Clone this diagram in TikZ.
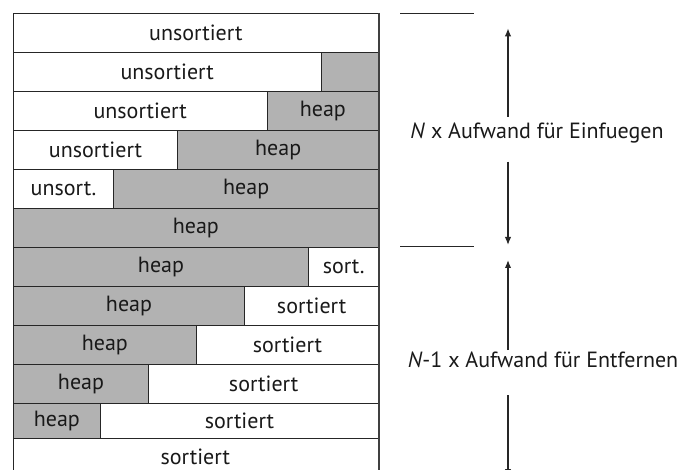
\documentclass[tikz,border=0pt]{standalone}
\usepackage{fontspec}
\setmainfont{PT Sans}
\usetikzlibrary{arrows.meta}
\newcommand\mkcell[7]{\node[#2, minimum width={(#4-#3)*1pt}, minimum height={#6*1pt}] (#1) at (#3,#5) {#7};}
\begin{document}
\begin{tikzpicture}[x=1pt,y=-1pt,
  cell/.style={draw=black!85, line width=1pt, anchor=north west, inner sep=0pt,
    font=\fontsize{22}{24}\selectfont, text=black!90},
  uns/.style={cell, fill=white},
  hp/.style={cell, fill=black!30},
  lab/.style={font=\fontsize{22}{24}\selectfont, text=black!90},
  sep/.style={line width=1pt, draw=black!85},
  arr/.style={-{Latex[length=8pt,width=6.5pt]}, line width=1.4pt, draw=black!85}
]
\useasboundingbox (0,0) rectangle (685,470);
\clip (0,0) rectangle (685,470);
% rows
\mkcell{r1a}{uns}{12.7}{378}{13}{39}{unsortiert}
\mkcell{r2a}{uns}{12.7}{320.7}{52}{39}{unsortiert}
\mkcell{r2b}{hp}{320.7}{378}{52}{39}{}
\mkcell{r3a}{uns}{12.7}{266.7}{91}{39}{unsortiert}
\mkcell{r3b}{hp}{266.7}{378}{91}{39}{heap}
\mkcell{r4a}{uns}{12.7}{177.3}{130}{39}{unsortiert}
\mkcell{r4b}{hp}{177.3}{378}{130}{39}{heap}
\mkcell{r5a}{uns}{12.7}{113.3}{169}{39}{unsort.}
\mkcell{r5b}{hp}{113.3}{378}{169}{39}{heap}
\mkcell{r6a}{hp}{12.7}{378}{208}{39}{heap}
\mkcell{r7a}{hp}{12.7}{308.3}{247}{39}{heap}
\mkcell{r7b}{uns}{308.3}{378}{247}{39}{sort.}
\mkcell{r8a}{hp}{12.7}{244.3}{286}{39}{heap}
\mkcell{r8b}{uns}{244.3}{378}{286}{39}{sortiert}
\mkcell{r9a}{hp}{12.7}{196}{325}{39}{heap}
\mkcell{r9b}{uns}{196}{378}{325}{39}{sortiert}
\mkcell{r10a}{hp}{12.7}{148.3}{364}{39}{heap}
\mkcell{r10b}{uns}{148.3}{378}{364}{39}{sortiert}
\mkcell{r11a}{hp}{12.7}{100}{403}{35}{heap}
\mkcell{r11b}{uns}{100}{378}{403}{35}{sortiert}
\node[uns, minimum width=365.3pt, minimum height=45pt] (r12a) at (12.7,438) {};
\node[lab] (r12t) at (195.3,457) {sortiert};
\draw[line width=1.6pt, draw=black!75] (r1a.north east) -- (r12a.south east);
% right side markers
\coordinate (m1a) at (400,13.3); \coordinate (m1b) at (474,13.3);
\coordinate (m2a) at (400,246.7); \coordinate (m2b) at (474,246.7);
\draw[sep] (m1a) -- (m1b);
\draw[sep] (m2a) -- (m2b);
\node[lab] (l1) at (537,133) {\textit{N} x Aufwand für Einfuegen};
\node[lab] (l2) at (543,360) {\textit{N}-1 x Aufwand für Entfernen};
\coordinate (a1s) at (508,116.7); \coordinate (a1e) at (508,28.3);
\coordinate (a2s) at (508,161.7); \coordinate (a2e) at (508,245);
\coordinate (a3s) at (508,350); \coordinate (a3e) at (508,260);
\coordinate (a4s) at (508,395); \coordinate (a4e) at (508,477);
\draw[arr] (a1s) -- (a1e);
\draw[arr] (a2s) -- (a2e);
\draw[arr] (a3s) -- (a3e);
\draw[arr] (a4s) -- (a4e);
\end{tikzpicture}
\end{document}
